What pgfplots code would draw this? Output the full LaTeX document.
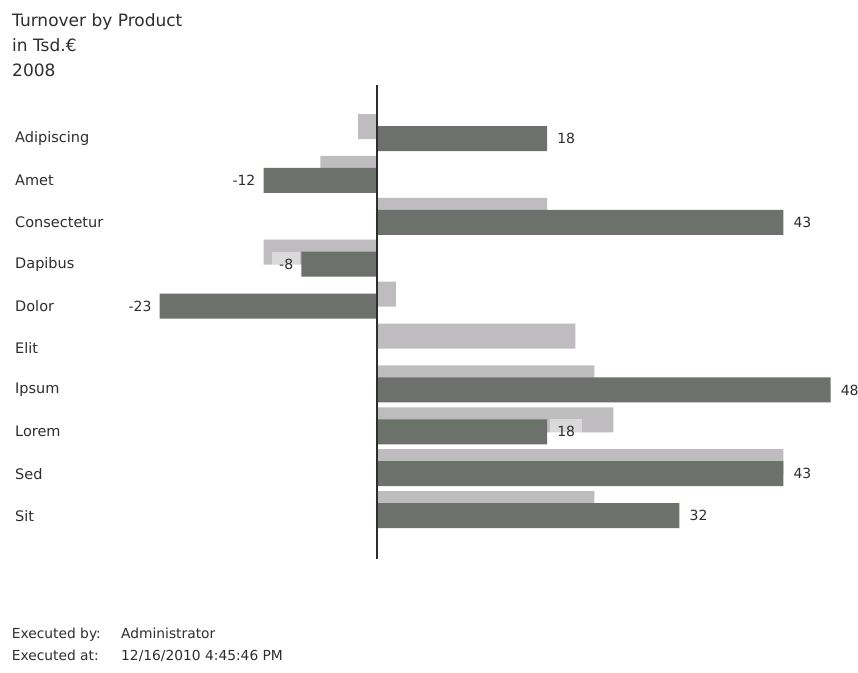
\documentclass[border=0pt]{standalone}
\usepackage{pgfplots}
\usepackage{pgfplotstable}
\pgfplotsset{compat=1.18}
\usepackage{fontspec}
\setmainfont{DejaVu Sans}

\definecolor{barDark}{HTML}{6D716B}
\definecolor{barLight}{HTML}{BEBCBF}
\definecolor{txt}{HTML}{2E2E2E}

% categories run downwards: Adipiscing at 0, Sit at -9
% previous year (light bars)
\pgfplotstableread{
y prev
0 -2
-1 -6
-2 18
-3 -12
-4 2
-5 21
-6 23
-7 25
-8 43
-9 23
}\prevyear

% current year, positive values
\pgfplotstableread{
y cur
0 18
-2 43
-6 48
-7 18
-8 43
-9 32
}\curpos

% current year, negative values
\pgfplotstableread{
y cur
-1 -12
-3 -8
-4 -23
}\curneg

\begin{document}
\begin{tikzpicture}[x=1pt,y=1pt]
\path[use as bounding box, fill=white] (0,0) rectangle (858,-672);

% header
\begin{scope}[every node/.style={anchor=base west, inner sep=0pt, text=txt, font=\fontsize{17}{20}\selectfont}]
\node at (12,-26) {Turnover by Product};
\node at (12,-51.5) {in Tsd.€};
\node at (12,-76) {2008};
\end{scope}

% footer
\begin{scope}[every node/.style={anchor=base west, inner sep=0pt, text=txt, font=\fontsize{13.8}{16}\selectfont}]
\node at (11.7,-638) {Executed by:};
\node at (121,-638) {Administrator};
\node at (11.7,-660) {Executed at:};
\node at (121,-660) {12/16/2010 4:45:46 PM};
\end{scope}

\begin{axis}[
  at={(93.5pt,-85pt)}, anchor=north west,
  scale only axis, width=756pt, height=474pt,
  xmin=-30, xmax=50, ymin=-10.036, ymax=1.277,
  enlargelimits=false,
  clip=false,
  axis line style={draw=none},
  xtick=\empty,
  ytick={-9,...,0},
  yticklabels={Sit,Sed,Lorem,Ipsum,Elit,Dolor,Dapibus,Consectetur,Amet,Adipiscing},
  major tick length=0pt,
  yticklabel style={anchor=west, xshift=-78.5pt, inner sep=0pt, text=txt,
    font=\fontsize{14.5}{16}\selectfont},
  xbar,
  bar width=25pt,
  /pgf/number format/assume math mode=true,
]
\addplot[xbar, draw=none, fill=barLight, bar shift=12pt] table[x=prev, y=y] {\prevyear};
\addplot[xbar, draw=none, fill=barDark, bar shift=0pt,
  point meta=x,
  nodes near coords,
  nodes near coords style={anchor=west, xshift=3pt, inner xsep=7pt, inner ysep=0pt,
    minimum height=25pt, fill=white, fill opacity=0.45, text opacity=1, text=txt,
    font=\fontsize{14}{16}\selectfont,
    /pgf/number format/fixed, /pgf/number format/precision=0}
  ] table[x=cur, y=y] {\curpos};
\addplot[xbar, draw=none, fill=barDark, bar shift=0pt,
  point meta=x,
  nodes near coords,
  nodes near coords style={anchor=east, xshift=-1pt, inner xsep=7pt, inner ysep=0pt,
    minimum height=25pt, fill=white, fill opacity=0.45, text opacity=1, text=txt,
    font=\fontsize{14}{16}\selectfont,
    /pgf/number format/fixed, /pgf/number format/precision=0}
  ] table[x=cur, y=y] {\curneg};
% zero line
\draw[line width=2pt, color=txt] (axis cs:0,-10.036) -- (axis cs:0,1.277);
\end{axis}
\end{tikzpicture}
\end{document}
